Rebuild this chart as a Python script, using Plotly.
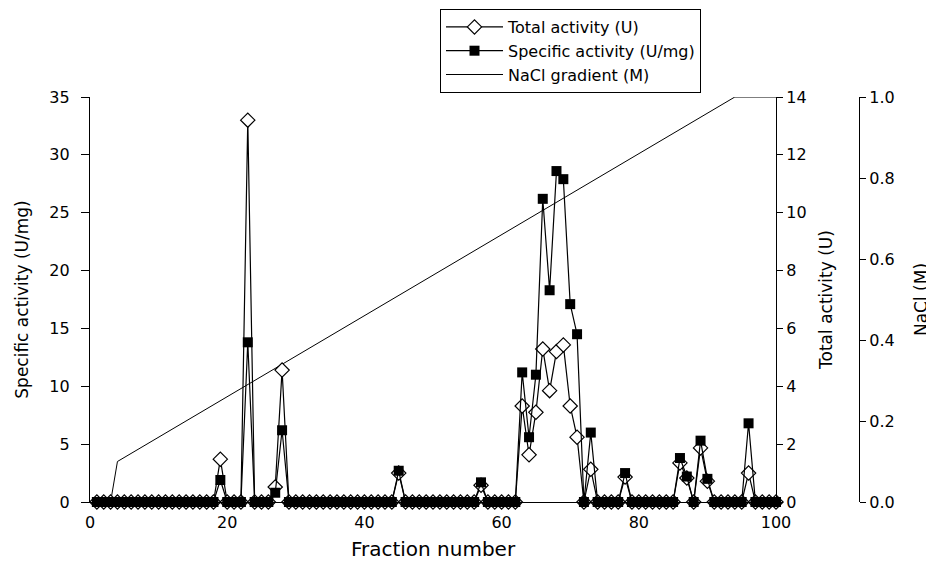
import plotly.graph_objects as go

# ---------------- data ----------------
fractions = list(range(1, 101))

# nonzero readings (fraction -> value); every other fraction is 0
total_nonzero = {19: 1.48, 23: 13.2, 27: 0.52, 28: 4.56, 45: 1.0, 57: 0.58,
                 63: 3.32, 64: 1.63, 65: 3.1, 66: 5.29, 67: 3.85, 68: 5.2,
                 69: 5.43, 70: 3.32, 71: 2.24, 73: 1.13, 78: 0.86, 86: 1.35,
                 87: 0.83, 89: 1.87, 90: 0.72, 96: 1.0}
specific_nonzero = {19: 1.9, 23: 13.8, 27: 0.8, 28: 6.2, 45: 2.7, 57: 1.7,
                    63: 11.2, 64: 5.6, 65: 11.0, 66: 26.2, 67: 18.3, 68: 28.6,
                    69: 27.9, 70: 17.1, 71: 14.5, 73: 6.0, 78: 2.5, 86: 3.8,
                    87: 2.2, 89: 5.3, 90: 2.0, 96: 6.8}
total_activity = [total_nonzero.get(f, 0.0) for f in fractions]
specific_activity = [specific_nonzero.get(f, 0.0) for f in fractions]

nacl_fraction = [0, 3, 4, 94, 100]
nacl_conc = [0.0, 0.0, 0.1, 1.0, 1.0]

left_ticks = [0, 5, 10, 15, 20, 25, 30, 35]
right_ticks = [0, 2, 4, 6, 8, 10, 12, 14]
nacl_ticks = [0.0, 0.2, 0.4, 0.6, 0.8, 1.0]
x_ticks = [0, 20, 40, 60, 80, 100]

FONT = "DejaVu Sans"
OFF = 8                     # page body margin of the browser
W, H = 934 - OFF, 561 - OFF
ML, MR, MT, MB = 90 - OFF, 20, 97 - OFF, 59
pw = W - ML - MR
ph = H - MT - MB
x_end = (776 - 90) / pw
nacl_pos = (859 - 90) / pw

fig = go.Figure()

fig.add_trace(go.Scatter(
    x=fractions, y=total_activity, name="Total activity (U)", yaxis="y2",
    mode="lines+markers", cliponaxis=False,
    line=dict(color="black", width=1.2),
    marker=dict(symbol="diamond", size=11, color="white",
                line=dict(color="black", width=1.2)),
))
fig.add_trace(go.Scatter(
    x=fractions, y=specific_activity, name="Specific activity (U/mg)", yaxis="y3",
    mode="lines+markers", cliponaxis=False,
    line=dict(color="black", width=1.2),
    marker=dict(symbol="square", size=10, color="black",
                line=dict(color="black", width=0)),
))
fig.add_trace(go.Scatter(
    x=nacl_fraction, y=nacl_conc, name="NaCl gradient (M)", yaxis="y",
    mode="lines", cliponaxis=False,
    line=dict(color="black", width=1),
))

axis_common = dict(showline=True, linecolor="black", linewidth=1.2,
                   showgrid=False, zeroline=False, ticks="outside",
                   tickcolor="black", tickwidth=1,
                   tickfont=dict(family=FONT, size=16, color="black"))

fig.update_layout(
    width=W, height=H,
    paper_bgcolor="white", plot_bgcolor="white",
    margin=dict(l=ML, r=MR, t=MT, b=MB, autoexpand=False),
    font=dict(family=FONT, color="black"),
    showlegend=True,
    legend=dict(x=(440 - 90) / pw, y=(502 - 9) / ph, xanchor="left", yanchor="top",
                bordercolor="black", borderwidth=1, bgcolor="white",
                font=dict(family=FONT, size=16, color="black"),
                tracegroupgap=0, itemwidth=57),
    xaxis=dict(domain=[0, x_end], range=[0, 100], tickvals=x_ticks,
               showline=True, linecolor="black", linewidth=1.2,
               showgrid=False, zeroline=False, ticks="outside", ticklen=6,
               tickcolor="rgba(0,0,0,0)",
               tickfont=dict(family=FONT, size=16, color="black"),
               title=dict(text="Fraction number", standoff=10,
                          font=dict(family=FONT, size=20, color="black"))),
    yaxis=dict(range=[0, 1], tickvals=nacl_ticks, tickformat=".1f",
               anchor="free", position=nacl_pos, side="right", ticklen=6,
               title=dict(text="NaCl (M)", standoff=21,
                          font=dict(family=FONT, size=17, color="black")),
               **axis_common),
    yaxis2=dict(range=[0, 14], tickvals=right_ticks, overlaying="y",
                anchor="x", side="right", ticklen=6,
                title=dict(text="Total activity (U)", standoff=14,
                           font=dict(family=FONT, size=17, color="black")),
                **axis_common),
    yaxis3=dict(range=[0, 35], tickvals=left_ticks, overlaying="y",
                anchor="x", side="left", ticklen=8, ticklabelstandoff=8,
                title=dict(text="Specific activity (U/mg)", standoff=16,
                           font=dict(family=FONT, size=17, color="black")),
                **axis_common),
)

fig.write_html("out.html")
